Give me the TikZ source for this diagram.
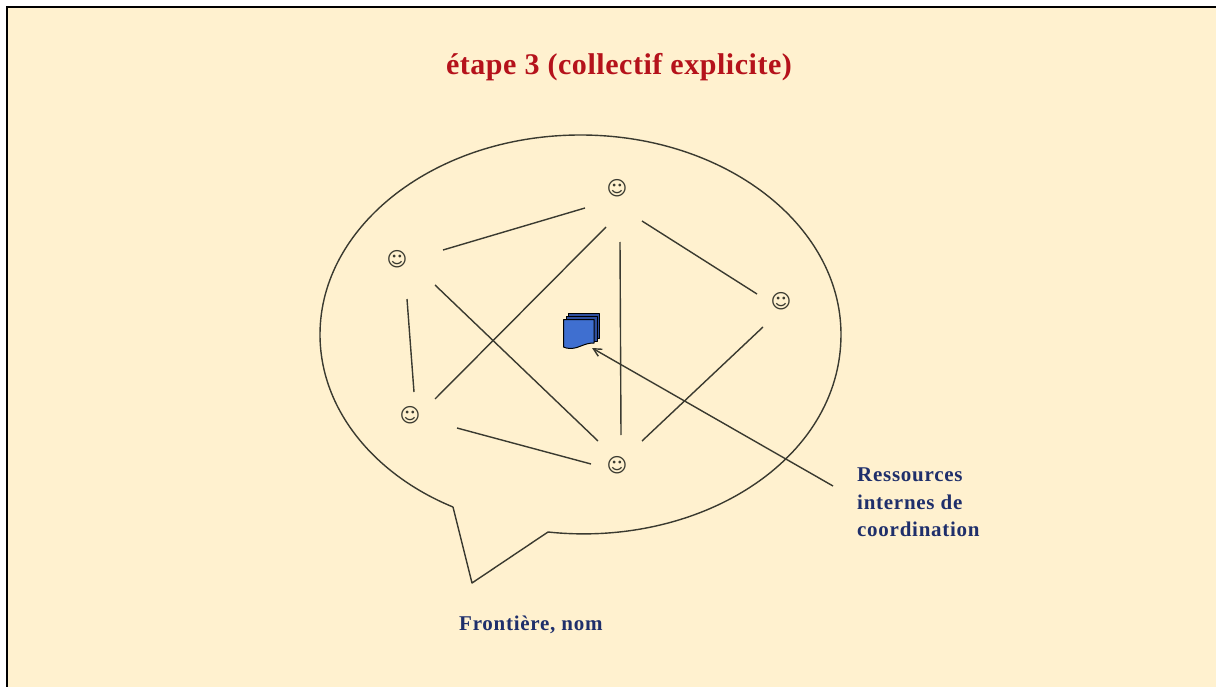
\documentclass[tikz,border=0pt]{standalone}
\usepackage{fontspec}
\setmainfont{Liberation Serif}
\newfontfamily\symfont{DejaVu Sans}
\usetikzlibrary{calc,arrows.meta}
\definecolor{cream}{HTML}{FFF1CF}
\definecolor{titlered}{HTML}{B5121B}
\definecolor{navy}{HTML}{1F2F6B}
\definecolor{linegrey}{HTML}{3A3A30}
\definecolor{docblue}{HTML}{3F6FD0}
\definecolor{docdark}{HTML}{2F4F9F}
\tikzset{
  smiley/.style={inner sep=0pt,font=\symfont\fontsize{20}{20}\selectfont,text=linegrey},
  link/.style={draw=linegrey,line width=1.4pt},
  lbl/.style={font=\bfseries\addfontfeature{LetterSpace=3.5}\fontsize{21}{27}\selectfont,text=navy,inner sep=0pt},
  docpage/.style={draw=black,line width=1pt,line join=round}
}
\begin{document}
\begin{tikzpicture}[x=1pt,y=-1pt]
\useasboundingbox (0,0) rectangle (1218,687);
\fill[white] (0,0) rectangle (1218,687);
\fill[cream] (7,7) rectangle (1216,687);
\draw[black,line width=2.4pt] (7,690) -- (7,7) -- (1216,7);
\node[font=\bfseries\addfontfeature{LetterSpace=1.8}\fontsize{30}{32}\selectfont,text=titlered,inner sep=0pt] (title) at (619,67) {étape 3 (collectif explicite)};
% speech bubble
\draw[link,line join=round]
  (453,507) -- (472,583) -- (548,532)
  .. controls (700,548) and (841,460) .. (841,334.5)
  .. controls (841,225) and (725,135) .. (580.5,135)
  .. controls (436,135) and (320,225) .. (320,334.5)
  .. controls (320,410) and (375,475) .. (453,507);
% smileys
\node[smiley] (s0) at (617,188) {☺};
\node[smiley] (s1) at (397,259) {☺};
\node[smiley] (s2) at (781,301.5) {☺};
\node[smiley] (s3) at (410,415) {☺};
\node[smiley] (s4) at (617,465) {☺};
% links
\draw[link] ($(s1)+(46,-9)$) -- ($(s0)+(-32,20)$);
\draw[link] ($(s0)+(25,33)$) -- ($(s2)+(-24,-7.5)$);
\draw[link] ($(s0)+(-11,39)$) -- ($(s3)+(25,-16)$);
\draw[link] ($(s0)+(3,54)$) -- ($(s4)+(4,-30)$);
\draw[link] ($(s1)+(38,26)$) -- ($(s4)+(-19,-24)$);
\draw[link] ($(s1)+(10,40)$) -- ($(s3)+(4,-23)$);
\draw[link] ($(s3)+(47,13)$) -- ($(s4)+(-26,-1)$);
\draw[link] ($(s2)+(-18,25.5)$) -- ($(s4)+(25,-24)$);
% document stack
\draw[docpage,fill=docdark] (568,313) -- (599,313) -- (599,338) -- (568,338) -- cycle;
\draw[docpage,fill=docdark] (566,316) -- (597,316) -- (597,341) -- (566,341) -- cycle;
\draw[docpage,fill=docblue] (563.5,319.5) -- (594,319.5) -- (594,343)
  .. controls (584,343) and (580,348) .. (571,348.5) .. controls (568,348.5) and (565,348) .. (563.5,347) -- cycle;
\coordinate (doc) at (592,348);
% labels
\node[lbl,anchor=west] (res1) at (857,475) {Ressources};
\node[lbl,anchor=west] (res2) at (857,502) {internes de};
\node[lbl,anchor=west] (res3) at (857,529) {coordination};
\node[lbl,anchor=west] (front) at (459,625) {Frontière, nom};
\coordinate (arrowstart) at (833,486);
\draw[link,-{Straight Barb[length=8pt,width=8pt]}] (arrowstart) -- (doc);
\end{tikzpicture}
\end{document}
